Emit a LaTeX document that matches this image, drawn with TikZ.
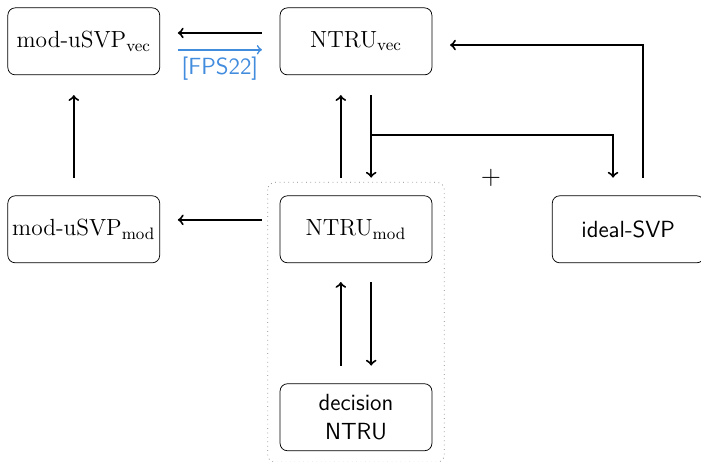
\documentclass[tikz,border=0pt]{standalone}
\definecolor{citeblue}{RGB}{66,140,222}
\begin{document}
\begin{tikzpicture}[>=to, line width=1.1pt,
    prob/.style={draw, thin, rounded corners, inner xsep=1pt, minimum width=2.9cm, minimum height=1.28cm, align=center, font=\fontsize{12.7}{15.5}\selectfont},
    sfprob/.style={prob, font=\fontsize{12.7}{15.5}\selectfont\sffamily}]
        \useasboundingbox (0,0) rectangle (13.39,8.82);

        % Problems
        \node[prob] (svec) at (1.60,8.03) {mod-uSVP$_{\mathrm{vec}}$};
        \node[prob] (nvec) at (6.80,8.03) {NTRU$_{\mathrm{vec}}$};
        \node[prob] (smod) at (1.60,4.44) {mod-uSVP$_{\mathrm{mod}}$};
        \node[prob] (nmod) at (6.80,4.44) {NTRU$_{\mathrm{mod}}$};
        \node[sfprob] (ideal) at (12.00,4.44) {ideal-SVP};
        \node[sfprob] (dec) at (6.80,0.85) {decision\\NTRU};
        \node[font=\Large] (plus) at (9.38,5.42) {$+$};

        % Dotted frame
        \draw[thin, gray, dotted, rounded corners] ([xshift=-0.23cm, yshift=0.25cm]nmod.north west) rectangle ([xshift=0.23cm, yshift=-0.21cm]dec.south east);

        % Reductions
        \draw[->, shorten <=0.34cm, shorten >=0.34cm] ([yshift=0.16cm]nvec.west) -- ([yshift=0.16cm]svec.east);
        \draw[->, citeblue, line width=0.9pt, shorten <=0.34cm, shorten >=0.34cm] ([yshift=-0.16cm]svec.east) -- node[below, font=\fontsize{12.7}{15.5}\selectfont\sffamily] (cite) {[FPS22]} ([yshift=-0.16cm]nvec.west);
        \draw[->, shorten <=0.34cm, shorten >=0.38cm] ([xshift=-0.19cm]smod.north) -- ([xshift=-0.19cm]svec.south);
        \draw[->, shorten <=0.34cm, shorten >=0.34cm] ([yshift=0.18cm]nmod.west) -- ([yshift=0.18cm]smod.east);
        \draw[->, shorten <=0.34cm, shorten >=0.38cm] ([xshift=-0.29cm]nmod.north) -- ([xshift=-0.29cm]nvec.south);
        \draw[->, shorten <=0.38cm, shorten >=0.34cm] ([xshift=0.29cm]nvec.south) -- ([xshift=0.29cm]nmod.north);
        \draw[->, shorten >=0.34cm] ([xshift=0.29cm, yshift=-1.15cm]nvec.south) -| ([xshift=-0.29cm]ideal.north);
        \draw[->, shorten <=0.34cm, shorten >=0.34cm] ([xshift=0.29cm]ideal.north) |- ([yshift=-0.07cm]nvec.east);
        \draw[->, shorten <=0.34cm, shorten >=0.36cm] ([xshift=-0.29cm]dec.north) -- ([xshift=-0.29cm]nmod.south);
        \draw[->, shorten <=0.36cm, shorten >=0.34cm] ([xshift=0.29cm]nmod.south) -- ([xshift=0.29cm]dec.north);
    \end{tikzpicture}
\end{document}
